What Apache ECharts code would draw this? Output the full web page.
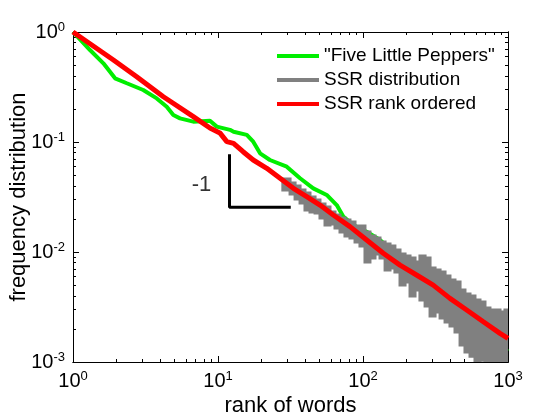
<!DOCTYPE html>
<html>
<head>
<meta charset="utf-8">
<script src="https://cdn.jsdelivr.net/npm/echarts@6/dist/echarts.min.js"></script>
<style>
  html, body { margin: 0; padding: 0; background: #fff; }
  #main { width: 560px; height: 420px; }
</style>
</head>
<body>
<div id="main"></div>
<script>
// "Five Little Peppers" word frequencies
const greenRank = [1, 1.31, 1.62, 1.95, 2.35, 3.05, 3.78, 4.43, 4.92, 5.47, 6.76, 8.8, 9.8, 12.1, 12.8, 15.8, 17.5, 19.5, 22.8, 29.8, 36.8, 45.4, 56.2, 65.9, 73.1, 85.7, 106, 131, 162, 220, 300, 417, 482, 600, 800, 1000];
const greenFreq = [1, 0.686, 0.519, 0.379, 0.342, 0.297, 0.249, 0.209, 0.176, 0.164, 0.153, 0.156, 0.138, 0.129, 0.124, 0.116, 0.1006, 0.0789, 0.0686, 0.0597, 0.0468, 0.0379, 0.033, 0.0267, 0.021, 0.0176, 0.0153, 0.01285, 0.01006, 0.0072, 0.0046, 0.00241, 0.00195, 0.0016, 0.0014, 0.00125];

// SSR rank ordered
const redRank = [1, 1.9, 2.75, 4.2, 6.76, 8.8, 10.3, 11.5, 12.8, 14.9, 17.5, 21.7, 26.8, 33.1, 40.9, 50.5, 62.4, 81.3, 106, 138, 180, 234, 305, 398, 519, 676, 881, 1000];
const redFreq = [1, 0.556, 0.392, 0.258, 0.170, 0.134, 0.121, 0.1007, 0.0973, 0.0816, 0.0686, 0.0577, 0.0468, 0.0379, 0.0318, 0.0267, 0.0217, 0.0170, 0.01285, 0.00973, 0.0076, 0.00618, 0.005, 0.00379, 0.00297, 0.00232, 0.00182, 0.00164];

// SSR distribution: upper / lower envelope of the noisy band (hidden under red below rank 28)
const grayRank = [28, 31.4, 34, 36.8, 39.8, 43.1, 46.7, 50.5, 54.7, 59.2, 64.1, 69.4, 75.1, 81.3, 88.1, 95.3, 103.2, 111.7, 121, 131, 142, 153.6, 166, 180, 195, 211, 228.5, 247, 268, 290, 314, 340, 368, 398, 431, 467, 505, 547, 592, 641, 694, 751, 813, 881, 953, 1000];
const grayHigh = [0.046, 0.0424, 0.0398, 0.0366, 0.0344, 0.0316, 0.0297, 0.0273, 0.0257, 0.0231, 0.0217, 0.0204, 0.0195, 0.0187, 0.0172, 0.0172, 0.0152, 0.014, 0.0134, 0.0123, 0.0118, 0.01134, 0.01043, 0.00959, 0.0092, 0.00882, 0.00811, 0.0092, 0.00882, 0.00716, 0.00686, 0.00658, 0.00605, 0.00557, 0.00534, 0.00451, 0.00415, 0.00398, 0.00366, 0.00351, 0.0031, 0.00297, 0.00297, 0.00285, 0.00297, 0.00285];
const grayLow = [0.043, 0.0366, 0.0337, 0.0303, 0.0279, 0.0241, 0.0231, 0.0226, 0.0204, 0.0176, 0.018, 0.0165, 0.0152, 0.014, 0.0134, 0.0123, 0.01134, 0.00811, 0.00882, 0.00959, 0.00882, 0.00686, 0.00716, 0.00658, 0.00501, 0.00534, 0.00398, 0.00451, 0.00366, 0.00323, 0.00262, 0.00285, 0.00251, 0.00231, 0.00212, 0.00187, 0.00143, 0.00123, 0.00113, 0.001, 0.00104, 0.001, 0.001, 0.001, 0.001, 0.001];

// slope -1 marker
const slopeRank = [12, 12, 31];
const slopeFreq = [0.075, 0.0255, 0.0255];
const slopeLabelPos = [7.7, 0.041];

const xMajor = [1, 10, 100, 1000];
const yMajor = [0.001, 0.01, 0.1, 1];
const xMinor = [];
const yMinor = [];
[1, 10, 100].forEach(d => { for (let k = 2; k <= 9; k++) xMinor.push(d * k); });
[0.001, 0.01, 0.1].forEach(d => { for (let k = 2; k <= 9; k++) yMinor.push(+(d * k).toPrecision(3)); });

const FONT = '"Liberation Sans", Arial, sans-serif';

const zip = (a, b) => a.map((v, i) => [v, b[i]]);

const rich = {
  b: { fontSize: 20, fontFamily: FONT, color: '#000' },
  s: { fontSize: 13, fontFamily: FONT, color: '#000', padding: [0, 0, 10, 0] }
};
const supLabel = v => '{b|10}{s|' + Math.round(Math.log10(v)) + '}';

function logAxis(min, max, pos, ticks, len, withLabels) {
  return {
    type: 'log', logBase: 10, min: min, max: max, position: pos,
    axisLine: { show: true, onZero: false, lineStyle: { color: '#000', width: 1 } },
    axisTick: { show: true, inside: true, length: len, customValues: ticks, lineStyle: { color: '#000', width: 1 } },
    axisLabel: withLabels ? { show: true, customValues: ticks, formatter: supLabel, rich: rich, margin: 8 } : { show: false },
    splitLine: { show: false }
  };
}

const xAxes = [
  Object.assign(logAxis(1, 1000, 'bottom', xMajor, 6, true), {
    name: 'rank of words', nameLocation: 'middle', nameGap: 33, nameMoveOverlap: false,
    nameTextStyle: { fontSize: 22, fontFamily: FONT, color: '#000' }
  }),
  logAxis(1, 1000, 'bottom', xMinor, 3, false),
  logAxis(1, 1000, 'top', xMajor, 6, false),
  logAxis(1, 1000, 'top', xMinor, 3, false)
];
const yAxes = [
  Object.assign(logAxis(0.001, 1, 'left', yMajor, 6, true), {
    name: 'frequency distribution', nameLocation: 'middle', nameGap: 43, nameMoveOverlap: false,
    nameTextStyle: { fontSize: 22, fontFamily: FONT, color: '#000' }
  }),
  logAxis(0.001, 1, 'left', yMinor, 3, false),
  logAxis(0.001, 1, 'right', yMajor, 6, false),
  logAxis(0.001, 1, 'right', yMinor, 3, false)
];

// gray band: stepped polygon between the upper and lower envelopes
function renderBand(params, api) {
  const n = grayRank.length;
  const pts = [];
  for (let i = 0; i < n; i++) {
    pts.push(api.coord([grayRank[i], grayHigh[i]]));
    if (i + 1 < n) pts.push(api.coord([grayRank[i + 1], grayHigh[i]]));
  }
  for (let i = n - 1; i >= 0; i--) {
    pts.push(api.coord([grayRank[i], grayLow[i]]));
    if (i > 0) pts.push(api.coord([grayRank[i - 1], grayLow[i]]));
  }
  return {
    type: 'polygon',
    shape: { points: pts },
    style: { fill: '#808080', stroke: '#808080', lineWidth: 3, lineJoin: 'miter' }
  };
}

const chart = echarts.init(document.getElementById('main'));
chart.setOption({
  animation: false,
  backgroundColor: '#fff',
  grid: { left: 73, top: 32, right: 52, bottom: 58, outerBoundsMode: 'none' },
  xAxis: xAxes,
  yAxis: yAxes,
  legend: {
    data: ['"Five Little Peppers"', 'SSR distribution', 'SSR rank ordered'],
    orient: 'vertical', left: 272, top: 41,
    icon: 'rect', itemWidth: 42, itemHeight: 4, itemGap: 4,
    textStyle: { fontSize: 19, fontFamily: FONT, color: '#000', lineHeight: 20 }
  },
  series: [
    {
      name: '"Five Little Peppers"', type: 'line', data: zip(greenRank, greenFreq),
      showSymbol: false, symbol: 'none', color: '#00ee00',
      lineStyle: { width: 4, color: '#00ee00' }, z: 2
    },
    {
      name: 'SSR distribution', type: 'custom', renderItem: renderBand,
      data: [[grayRank[0], grayHigh[0]]], clip: true,
      itemStyle: { color: '#808080' }, color: '#808080', z: 3
    },
    {
      name: 'SSR rank ordered', type: 'line', data: zip(redRank, redFreq),
      showSymbol: false, symbol: 'none', color: '#ff0000',
      lineStyle: { width: 5, color: '#ff0000' }, z: 4
    },
    {
      name: 'slope', type: 'line', data: zip(slopeRank, slopeFreq),
      showSymbol: false, symbol: 'none',
      lineStyle: { width: 3, color: '#000', cap: 'square' }, z: 5
    },
    {
      name: 'slopeText', type: 'scatter', data: [slopeLabelPos], symbolSize: 1,
      itemStyle: { color: 'rgba(0,0,0,0)' },
      label: { show: true, position: 'inside', formatter: '-1', fontSize: 22, fontFamily: FONT, color: '#000' },
      z: 5
    }
  ]
});
</script>
</body>
</html>
